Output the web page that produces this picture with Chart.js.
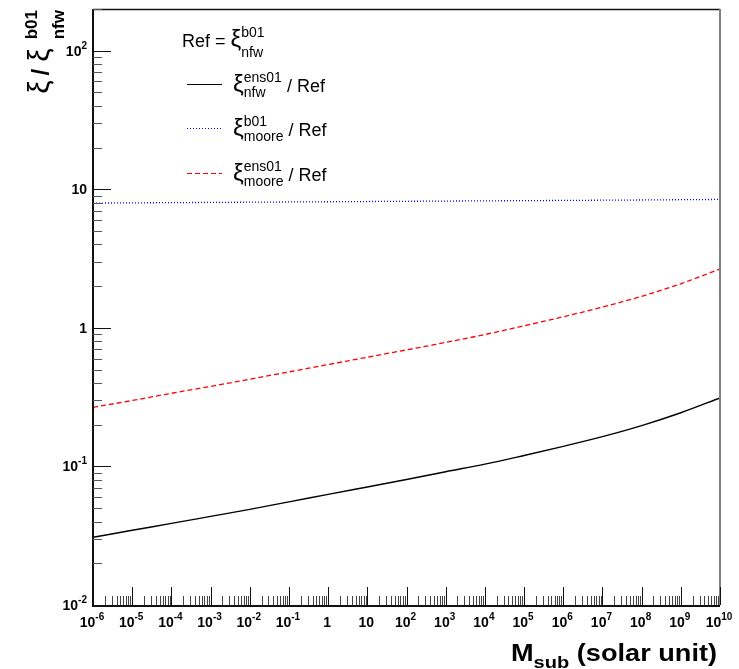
<!DOCTYPE html>
<html><head><meta charset="utf-8">
<script src="https://cdn.jsdelivr.net/npm/chart.js@4/dist/chart.umd.min.js"></script>
<style>html,body{margin:0;padding:0;background:#fff;}#wrap{width:739px;height:669px;}</style>
</head><body><div id="wrap"><canvas id="c" width="739" height="669"></canvas></div>
<script>
// ---- data ----
const massExponents = [-6,-5,-4,-3,-2,-1,0,1,2,3,4,5,6,7,8,9,10];
const masses = massExponents.map(e => Math.pow(10, e));
const nfwEns01   = [0.0308,0.0346,0.0388,0.0436,0.0490,0.0555,0.0628,0.0711,0.0805,0.0916,0.1038,0.120,0.1396,0.164,0.197,0.244,0.312];
const mooreB01   = [7.95,7.98,8.01,8.04,8.07,8.10,8.13,8.16,8.19,8.22,8.25,8.28,8.31,8.34,8.37,8.41,8.45];
const mooreEns01 = [0.267,0.299,0.337,0.378,0.426,0.481,0.543,0.614,0.693,0.785,0.895,1.035,1.202,1.413,1.69,2.08,2.66];
const xTickValues = masses;
const xTickLabels = ['10^-6','10^-5','10^-4','10^-3','10^-2','10^-1','1','10','10^2','10^3','10^4','10^5','10^6','10^7','10^8','10^9','10^10'];
const yTickValues = [0.01,0.1,1,10,100];
const yTickLabels = ['10^-2','10^-1','1','10','10^2'];
const xRange = [1e-6, 1e10];
const yRange = [0.01, 200];

const FONT = '"Liberation Sans", Arial, Helvetica, sans-serif';

function partsWidth(ctx, parts) {
  let w = 0;
  for (const p of parts) {
    ctx.font = p.font;
    if (p.sup !== undefined) {
      const a = ctx.measureText(p.sup).width, b = ctx.measureText(p.sub).width;
      w += Math.max(a, b);
    } else w += ctx.measureText(p.text).width + (p.gap || 0);
  }
  return w;
}
function drawParts(ctx, parts, x, y) {
  for (const p of parts) {
    ctx.font = p.font;
    if (p.sup !== undefined) {
      ctx.fillText(p.sup, x, y + p.supDy);
      ctx.fillText(p.sub, x, y + p.subDy);
      x += Math.max(ctx.measureText(p.sup).width, ctx.measureText(p.sub).width);
    } else {
      ctx.fillText(p.text, x, y + (p.dy || 0));
      x += ctx.measureText(p.text).width + (p.gap || 0);
    }
  }
  return x;
}
function tickParts(label) {
  const i = label.indexOf('^');
  if (i < 0) return [{text: label, font: 'bold 14px ' + FONT}];
  return [{text: label.slice(0, i), font: 'bold 14px ' + FONT},
          {text: label.slice(i + 1), font: 'bold 10px ' + FONT, dy: -7}];
}

const rootStyle = {
  id: 'rootStyle',
  afterDraw(chart) {
    const ctx = chart.ctx, a = chart.chartArea;
    const xs = chart.scales.x, ys = chart.scales.y;
    ctx.save();
    ctx.textBaseline = 'alphabetic';
    ctx.fillStyle = '#000';
    // frame
    ctx.lineWidth = 1.5;
    ctx.strokeStyle = '#111';
    ctx.beginPath(); ctx.moveTo(a.left, a.top + 0.5); ctx.lineTo(a.right, a.top + 0.5); ctx.stroke();
    ctx.strokeStyle = '#808080'; ctx.lineWidth = 2;
    ctx.beginPath(); ctx.moveTo(a.right, a.top); ctx.lineTo(a.right, a.bottom); ctx.stroke();
    ctx.strokeStyle = '#111'; ctx.lineWidth = 2;
    ctx.beginPath(); ctx.moveTo(a.left, a.top); ctx.lineTo(a.left, a.bottom + 1); ctx.lineTo(a.right, a.bottom + 1); ctx.stroke();
    // x ticks
    ctx.lineWidth = 1;
    for (let k = -6; k <= 10; k++) {
      const base = Math.pow(10, k);
      const px = Math.round(xs.getPixelForValue(base)) + 0.5;
      ctx.strokeStyle = '#111';
      ctx.beginPath(); ctx.moveTo(px, a.bottom); ctx.lineTo(px, a.bottom - 18); ctx.stroke();
      if (k < 10) for (let m = 2; m <= 9; m++) {
        const q = Math.round(xs.getPixelForValue(m * base)) + 0.5;
        ctx.strokeStyle = '#444';
        ctx.beginPath(); ctx.moveTo(q, a.bottom); ctx.lineTo(q, a.bottom - 9); ctx.stroke();
      }
    }
    // y ticks
    for (let k = -2; k <= 2; k++) {
      const base = Math.pow(10, k);
      const py = Math.round(ys.getPixelForValue(base)) + 0.5;
      ctx.strokeStyle = '#111';
      ctx.beginPath(); ctx.moveTo(a.left, py); ctx.lineTo(a.left + 18, py); ctx.stroke();
      for (let m = 2; m <= 9; m++) {
        const v = m * base;
        if (v > yRange[1]) break;
        const q = Math.round(ys.getPixelForValue(v)) + 0.5;
        ctx.strokeStyle = '#555';
        ctx.beginPath(); ctx.moveTo(a.left, q); ctx.lineTo(a.left + 9, q); ctx.stroke();
      }
    }
    // x tick labels
    xTickValues.forEach((v, i) => {
      const parts = tickParts(xTickLabels[i]);
      const w = partsWidth(ctx, parts);
      const px = xs.getPixelForValue(v);
      drawParts(ctx, parts, px - w / 2 - 1, a.bottom + 22);
    });
    // y tick labels
    yTickValues.forEach((v, i) => {
      const parts = tickParts(yTickLabels[i]);
      const w = partsWidth(ctx, parts);
      const py = ys.getPixelForValue(v);
      drawParts(ctx, parts, 87 - w, py + 5);
    });
    // x axis title (horizontally stretched like the reference)
    const xt = [{text: 'M', font: 'bold 23px ' + FONT},
                {text: 'sub', font: 'bold 17px ' + FONT, dy: 7},
                {text: ' (solar unit)', font: 'bold 23px ' + FONT}];
    const sx = 1.18;
    ctx.save();
    ctx.translate(717, 661);
    ctx.scale(sx, 1);
    drawParts(ctx, xt, -partsWidth(ctx, xt), 0);
    ctx.restore();
    // y axis title (rotated)
    const yt = [{text: '\u03BE', font: '30px ' + FONT, gap: 5},
                {text: '/', font: 'bold 24px ' + FONT, gap: 7},
                {text: '\u03BE', font: '30px ' + FONT, gap: 9},
                {sup: 'b01', sub: 'nfw', font: 'bold 17px ' + FONT, supDy: -12, subDy: 15}];
    ctx.save();
    ctx.translate(49, 10);
    ctx.rotate(-Math.PI / 2);
    drawParts(ctx, yt, -partsWidth(ctx, yt), 0);
    ctx.restore();
    // legend
    const LF = '18px ' + FONT, SF = '14px ' + FONT, XF = '24px ' + FONT;
    drawParts(ctx, [{text: 'Ref = ', font: LF}, {text: '\u03BE', font: XF, gap: 0},
                    {sup: 'b01', sub: 'nfw', font: SF, supDy: -10, subDy: 10}], 182, 47);
    const entries = [
      {color: '#000', dash: [], width: 1.2, sup: 'ens01', sub: 'nfw', y: 84},
      {color: '#0000ff', dash: [1, 2], width: 1.2, sup: 'b01', sub: 'moore', y: 128},
      {color: '#ff0000', dash: [5, 3], width: 1.2, sup: 'ens01', sub: 'moore', y: 173}
    ];
    for (const e of entries) {
      ctx.strokeStyle = e.color; ctx.lineWidth = e.width; ctx.setLineDash(e.dash);
      ctx.beginPath(); ctx.moveTo(187, e.y + 0.5); ctx.lineTo(222, e.y + 0.5); ctx.stroke();
      ctx.setLineDash([]);
      ctx.fillStyle = '#000';
      drawParts(ctx, [{text: '\u03BE', font: XF, gap: 0},
                      {sup: e.sup, sub: e.sub, font: SF, supDy: -10, subDy: 5},
                      {text: ' / Ref', font: LF}], 233, e.y + 8);
    }
    ctx.restore();
  }
};

const toPts = arr => masses.map((m, i) => ({x: m, y: arr[i]}));

new Chart(document.getElementById('c'), {
  type: 'line',
  data: {
    datasets: [
      {label: 'nfw ens01 / Ref', data: toPts(nfwEns01), borderColor: '#000', borderWidth: 1.4},
      {label: 'moore b01 / Ref', data: toPts(mooreB01), borderColor: '#0000ff', borderWidth: 1.3, borderDash: [1, 2]},
      {label: 'moore ens01 / Ref', data: toPts(mooreEns01), borderColor: '#ff0000', borderWidth: 1.3, borderDash: [5, 3]}
    ]
  },
  options: {
    responsive: false,
    animation: false,
    devicePixelRatio: 1,
    layout: {padding: {left: 93, right: 19, top: 9, bottom: 64}},
    elements: {point: {radius: 0}, line: {cubicInterpolationMode: 'monotone', fill: false}},
    plugins: {legend: {display: false}, tooltip: {enabled: false}},
    scales: {
      x: {type: 'logarithmic', min: xRange[0], max: xRange[1], display: false},
      y: {type: 'logarithmic', min: yRange[0], max: yRange[1], display: false}
    }
  },
  plugins: [rootStyle]
});
</script></body></html>
